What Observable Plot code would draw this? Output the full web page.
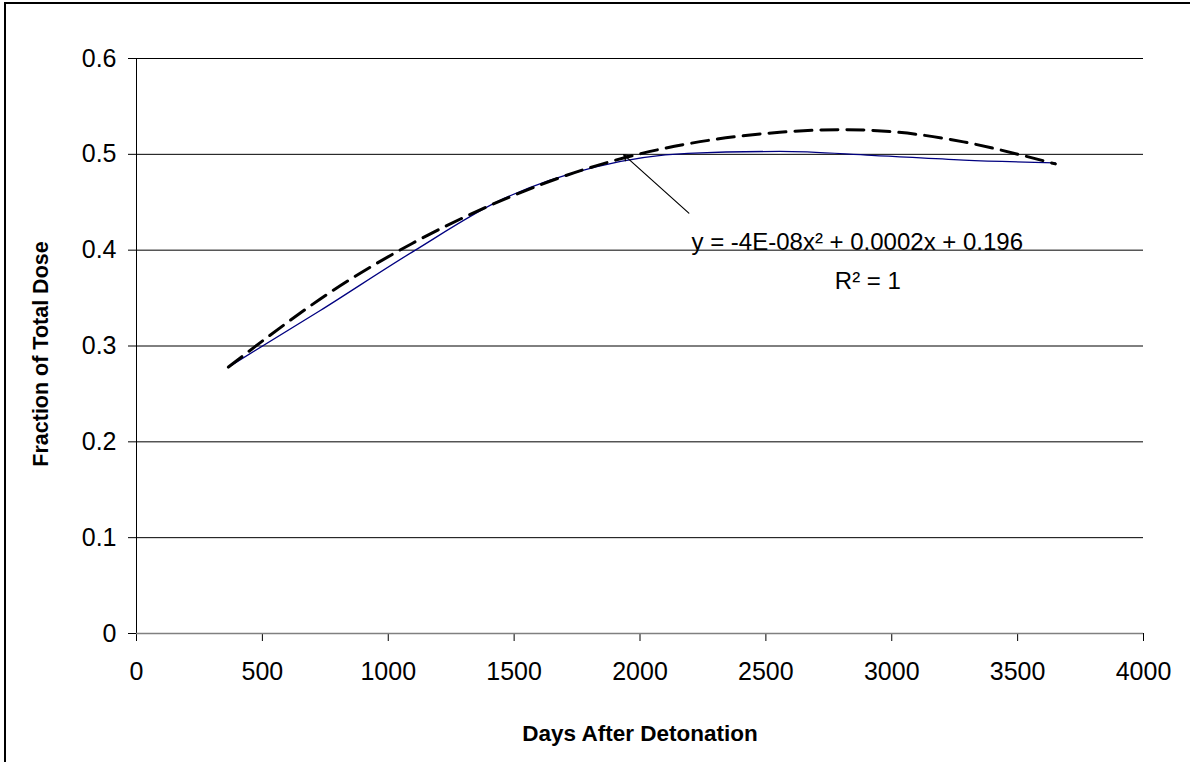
<!DOCTYPE html>
<html>
<head>
<meta charset="utf-8">
<script src="https://cdn.jsdelivr.net/npm/d3@7"></script>
<script src="https://cdn.jsdelivr.net/npm/@observablehq/plot@0.6"></script>
<style>
  html, body { margin: 0; padding: 0; background: #fff; overflow: hidden; }
  #frame { position: absolute; left: 4px; top: 2px; width: 1400px; height: 1000px;
           border-left: 2px solid #000; border-top: 2px solid #000; }
  #chart { position: absolute; left: 0; top: 0; }
</style>
</head>
<body>
<div id="frame"></div>
<div id="chart"></div>
<script>
// Yearly samples (days after detonation) for the first ten years
const days = [365, 730, 1095, 1460, 1825, 2190, 2555, 2920, 3285, 3650];
// Fraction of total dose delivered
const doseFraction = [0.278, 0.337, 0.398, 0.454, 0.487, 0.501, 0.503, 0.499, 0.494, 0.491];
// Polynomial (order 2) trendline values at the same days
const trendFraction = [0.278, 0.349, 0.407, 0.453, 0.488, 0.511, 0.523, 0.525, 0.513, 0.490];

// Axis ticks
const xTicks = [0, 500, 1000, 1500, 2000, 2500, 3000, 3500, 4000];
const yTicks = [0, 0.1, 0.2, 0.3, 0.4, 0.5, 0.6];
const gridTicks = [0.1, 0.2, 0.3, 0.4, 0.5, 0.6];

// Trendline equation label and its leader
const equationLines = ["y = -4E-08x² + 0.0002x + 0.196", "R² = 1"];
const equationDay = [2863, 2905];
const equationFraction = [0.4, 0.3595];
const leaderFrom = [2194, 0.4387];
const leaderTo = [1935, 0.4997];

const series = days.map((d, i) => ({day: d, fraction: doseFraction[i]}));
const trend = days.map((d, i) => ({day: d, fraction: trendFraction[i]}));
const labels = equationLines.map((t, i) => ({text: t, day: equationDay[i], fraction: equationFraction[i]}));

const font = "'Liberation Sans', Arial, Helvetica, sans-serif";

const chart = Plot.plot({
  width: 1190,
  height: 762,
  marginLeft: 136,
  marginRight: 47,
  marginTop: 58,
  marginBottom: 129,
  style: {fontFamily: font, fontSize: "24px", background: "transparent", color: "#000", overflow: "visible"},
  x: {domain: [0, 4000]},
  y: {domain: [0, 0.6]},
  marks: [
    Plot.gridY(gridTicks, {stroke: "#000", strokeOpacity: 1, strokeWidth: 1}),
    Plot.axisY(yTicks, {
      tickSize: 8, tickPadding: 12, fontSize: 25, label: null,
      tickFormat: d => d === 0 ? "0" : d.toFixed(1)
    }),
    Plot.axisX(xTicks, {tickSize: 8, tickPadding: 21, fontSize: 25, label: null, tickFormat: d => String(d)}),
    Plot.ruleX([0], {stroke: "#000", strokeWidth: 1}),
    Plot.ruleY([0], {stroke: "#808080", strokeWidth: 1.5}),
    Plot.line(series, {x: "day", y: "fraction", stroke: "#000080", strokeWidth: 1.3, curve: "monotone-x"}),
    Plot.line(trend, {x: "day", y: "fraction", stroke: "#000", strokeWidth: 3,
                      strokeDasharray: "17,9", curve: "natural"}),
    Plot.arrow([{x1: leaderFrom[0], y1: leaderFrom[1], x2: leaderTo[0], y2: leaderTo[1]}], {
      x1: "x1", y1: "y1", x2: "x2", y2: "y2", stroke: "#000", strokeWidth: 1.2, headLength: 8
    }),
    Plot.text(labels, {x: "day", y: "fraction", text: "text", textAnchor: "middle",
                       lineAnchor: "bottom", fontSize: 24, fill: "#000"}),
    Plot.text(["Days After Detonation"], {frameAnchor: "bottom", dy: 107, fontWeight: "bold",
                                          fontSize: 22.5, fill: "#000"}),
    Plot.text(["Fraction of Total Dose"], {frameAnchor: "left", dx: -95, dy: 8, rotate: -90,
                                           textAnchor: "middle", fontWeight: "bold",
                                           fontSize: 21.5, fill: "#000"})
  ]
});

document.getElementById("chart").appendChild(chart);
</script>
</body>
</html>
